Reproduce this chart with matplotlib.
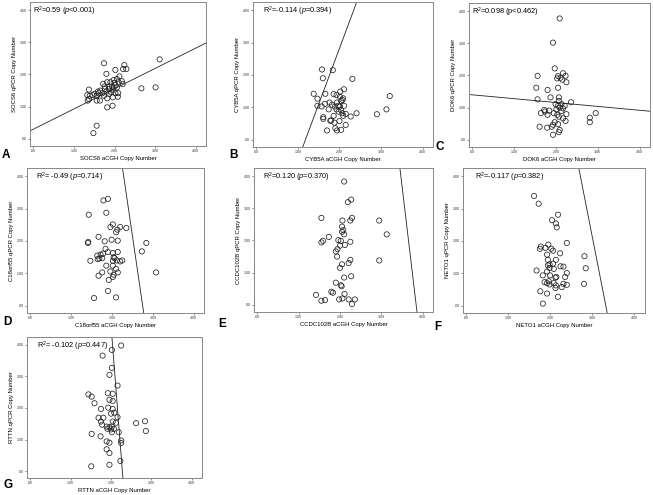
import matplotlib
matplotlib.use("Agg")
import matplotlib.pyplot as plt
import numpy as np

plt.rcParams['font.family'] = ['Liberation Sans', 'DejaVu Sans']
plt.rcParams['mathtext.fontset'] = 'custom'
plt.rcParams['mathtext.rm'] = 'Liberation Sans'
plt.rcParams['mathtext.it'] = 'Liberation Sans:italic'

# ---- data (aCGH copy number x, qPCR copy number y) ----
socs6_x = [1.74, 2.24, 2.21, 2.29, 3.11, 1.80, 2.02, 2.12, 2.06, 1.98, 1.82, 1.90, 2.00, 2.10,
           2.18, 1.72, 2.20, 2.02, 1.94, 1.86, 1.98, 2.06, 1.76, 1.87, 1.96, 1.65, 1.80, 1.92,
           2.02, 2.09, 1.61, 1.70, 1.51, 1.39, 1.59, 1.37, 1.33, 1.46, 1.56, 1.37, 1.34, 1.56,
           1.64, 1.82, 1.96, 2.08, 2.66, 3.01, 1.82, 1.95, 1.56, 1.48, 1.86, 1.74, 1.76]
socs6_y = [2.35, 2.29, 2.17, 2.17, 2.47, 2.02, 2.14, 1.94, 1.86, 1.83, 1.76, 1.76, 1.74, 1.76,
           1.79, 1.71, 1.70, 1.67, 1.63, 1.63, 1.60, 1.60, 1.55, 1.55, 1.53, 1.50, 1.47, 1.45,
           1.42, 1.42, 1.42, 1.42, 1.40, 1.34, 1.47, 1.53, 1.36, 1.36, 1.34, 1.24, 1.19, 1.19,
           1.19, 1.26, 1.29, 1.31, 1.57, 1.60, 0.98, 1.03, 0.41, 0.18, 1.40, 1.34, 1.63]

cyb5a_x = [1.58, 1.84, 1.60, 2.31, 2.11, 1.66, 1.38, 1.47, 1.86, 1.93, 2.01, 2.09, 2.04, 3.21,
           1.76, 1.65, 1.57, 1.47, 1.89, 1.97, 2.01, 2.11, 1.93, 2.04, 1.98, 2.07, 2.15, 2.09,
           3.13, 2.90, 2.41, 2.27, 1.61, 1.61, 1.78, 1.80, 1.88, 2.00, 2.15, 1.90, 1.94, 1.70,
           2.04, 1.86, 1.82, 1.74, 1.94, 2.02, 2.07]
cyb5a_y = [2.17, 2.15, 1.90, 1.88, 1.56, 1.42, 1.42, 1.27, 1.41, 1.38, 1.33, 1.28, 1.20, 1.35,
           1.15, 1.11, 1.03, 1.05, 1.03, 1.05, 1.03, 1.05, 0.94, 0.92, 0.87, 0.82, 0.80, 0.74,
           0.94, 0.79, 0.82, 0.72, 0.70, 0.65, 0.59, 0.60, 0.53, 0.58, 0.46, 0.36, 0.29, 0.29,
           0.31, 0.74, 1.08, 0.94, 1.15, 1.49, 1.23]

dok6_x = [2.09, 1.93, 1.97, 2.17, 2.05, 2.11, 2.03, 2.23, 2.15, 2.25, 1.56, 1.53, 1.80, 2.05,
          1.87, 2.07, 1.56, 2.07, 2.36, 2.13, 2.05, 2.21, 2.09, 2.01, 1.72, 1.84, 1.64, 1.80,
          1.95, 2.03, 2.13, 2.25, 2.17, 2.07, 1.97, 2.05, 1.93, 2.23, 2.81, 2.81, 2.95, 1.61,
          1.79, 1.90, 2.07, 1.93, 2.09, 1.99, 2.17, 1.74]
dok6_y = [3.77, 3.02, 2.22, 2.07, 1.98, 1.93, 1.91, 1.99, 1.87, 1.79, 1.99, 1.62, 1.55, 1.62,
          1.32, 1.32, 1.26, 1.21, 1.17, 1.11, 1.06, 1.06, 1.00, 0.95, 0.93, 0.91, 0.83, 0.78,
          0.83, 0.78, 0.90, 0.80, 0.67, 0.72, 0.55, 0.49, 0.47, 0.59, 0.69, 0.55, 0.83, 0.41,
          0.38, 0.41, 0.24, 0.16, 0.31, 1.11, 0.98, 0.88]

c18_x = [1.79, 1.90, 1.43, 1.86, 2.02, 1.96, 2.13, 2.20, 2.35, 2.10, 1.67, 1.41, 1.42, 1.82,
         1.99, 2.14, 1.84, 2.84, 2.73, 1.64, 1.72, 1.78, 1.90, 2.02, 2.14, 1.65, 1.76, 1.47,
         2.06, 2.12, 2.02, 2.20, 2.25, 1.86, 2.02, 2.10, 1.96, 2.14, 1.76, 1.67, 2.04, 2.02,
         1.92, 3.08, 1.90, 1.56, 2.10, 2.04, 1.69]
c18_y = [3.25, 3.30, 2.81, 2.87, 2.51, 2.43, 2.35, 2.43, 2.40, 2.27, 2.13, 1.94, 1.97, 1.99,
         2.04, 2.01, 1.76, 1.94, 1.68, 1.55, 1.58, 1.61, 1.66, 1.63, 1.66, 1.44, 1.47, 1.39,
         1.47, 1.40, 1.39, 1.37, 1.40, 1.24, 1.24, 1.14, 1.06, 1.03, 1.03, 0.93, 0.96, 0.89,
         0.80, 1.03, 0.46, 0.24, 0.26, 1.50, 1.46]

ccdc_x = [2.10, 2.27, 2.19, 1.55, 2.29, 2.25, 2.95, 2.06, 2.05, 2.08, 2.05, 2.10, 3.13, 1.73,
          1.59, 1.55, 1.96, 2.02, 2.25, 2.00, 2.12, 1.94, 1.90, 1.93, 2.25, 2.21, 2.95, 2.05,
          2.00, 2.10, 2.27, 1.90, 2.02, 2.04, 1.79, 1.83, 1.42, 1.55, 1.64, 1.98, 2.06, 2.11,
          2.21, 2.36, 2.29]
ccdc_y = [3.83, 3.27, 3.19, 2.70, 2.70, 2.62, 2.62, 2.62, 2.43, 2.32, 2.27, 2.19, 2.19, 2.11,
          1.99, 1.94, 2.01, 1.99, 1.96, 1.84, 1.86, 1.73, 1.66, 1.50, 1.40, 1.30, 1.38, 1.26,
          1.15, 0.85, 0.89, 0.69, 0.61, 0.58, 0.41, 0.38, 0.31, 0.13, 0.15, 0.17, 0.20, 0.34,
          0.17, 0.17, 0.03]

neto1_x = [1.61, 1.72, 2.18, 2.04, 2.13, 2.15, 2.39, 1.95, 1.77, 1.75, 1.88, 2.02, 2.06, 2.23,
           1.92, 2.81, 2.13, 1.94, 2.06, 1.98, 1.94, 2.24, 2.31, 1.98, 2.08, 2.84, 1.92, 1.67,
           2.39, 1.82, 2.35, 2.14, 2.12, 1.86, 1.92, 1.98, 2.08, 1.96, 2.13, 2.31, 2.39, 2.27,
           2.12, 2.80, 1.76, 1.92, 2.18, 1.82, 1.99]
neto1_y = [3.39, 3.15, 2.81, 2.64, 2.54, 2.42, 1.94, 1.89, 1.83, 1.76, 1.79, 1.76, 1.70, 1.62,
           1.58, 1.53, 1.42, 1.42, 1.30, 1.28, 1.25, 1.22, 1.21, 1.17, 1.14, 1.16, 1.06, 1.09,
           1.01, 0.94, 0.89, 0.89, 0.87, 0.73, 0.70, 0.66, 0.70, 0.76, 0.63, 0.68, 0.65, 0.58,
           0.55, 0.68, 0.45, 0.38, 0.28, 0.07, 0.94]

rttn_x = [2.25, 2.02, 1.79, 2.02, 1.96, 2.16, 1.44, 1.52, 1.92, 2.04, 1.96, 2.04, 1.59, 1.93,
          2.04, 1.75, 2.00, 2.08, 1.69, 1.81, 2.16, 1.75, 1.78, 2.04, 2.12, 2.62, 2.84, 1.89,
          1.96, 2.02, 1.91, 2.00, 2.07, 2.02, 2.19, 2.86, 1.52, 1.74, 2.25, 2.25, 1.89, 1.96,
          1.89, 1.96, 1.96, 1.51, 2.23]
rttn_y = [3.98, 3.84, 3.66, 3.27, 3.05, 2.71, 2.43, 2.36, 2.47, 2.45, 2.26, 2.22, 2.15, 2.01,
          1.97, 1.97, 1.82, 1.85, 1.69, 1.69, 1.71, 1.57, 1.47, 1.57, 1.53, 1.52, 1.58, 1.41,
          1.39, 1.41, 1.34, 1.32, 1.34, 1.23, 1.23, 1.27, 1.18, 1.10, 0.97, 0.89, 0.94, 0.90,
          0.69, 0.57, 0.20, 0.15, 0.32]

genes = ['SOCS6', 'CYB5A', 'DOK6', 'C18orf55', 'CCDC102B', 'NETO1', 'RTTN']
letters = ['A', 'B', 'C', 'D', 'E', 'F', 'G']
xs = [socs6_x, cyb5a_x, dok6_x, c18_x, ccdc_x, neto1_x, rttn_x]
ys = [socs6_y, cyb5a_y, dok6_y, c18_y, ccdc_y, neto1_y, rttn_y]
# fitted lines as drawn in the figure: intercept, slope
line_icpt = [0.30, -4.06, 1.40, 23.65, 41.5, 21.9, 37.6]
line_slope = [0.63, 3.44, -0.12, -8.6, -10.8, -6.6, -16.5]
stats = [r'R$^2$=0.59 ($\it{p}$<0.001)',
         r'R$^2$=-0.114 ($\it{p}$=0.394)',
         r'R$^2$=0.098 (p<0.462)',
         r'R$^2$= -0.49 ($\it{p}$=0.714)',
         r'R$^2$=0.120 ($\it{p}$=0.370)',
         r'R$^2$=-0.117 ($\it{p}$=0.382)',
         r'R$^2$= -0.102 ($\it{p}$=0.447)']
ticks = [0, 1, 2, 3, 4]
tick_labels = ['.00', '1.00', '2.00', '3.00', '4.00']

W, H = 653, 495
# axes boxes in pixels: left, right, top, bottom
boxes = [(30, 206, 2, 146), (253, 433, 2, 147), (469, 650, 3, 147),
         (27, 204, 168, 313), (254, 433, 168, 312), (463, 645, 168, 313),
         (27, 202, 337, 478)]
letter_pos = [(2, 158), (229, 158), (436, 150), (3, 325), (218, 327), (434, 330), (3, 488)]
txt_x = [0.015, 0.055, 0.015, 0.05, 0.05, 0.066, 0.055]

fig = plt.figure(figsize=(W / 100, H / 100), dpi=100)
for i in range(7):
    l, r, t, b = boxes[i]
    ax = fig.add_axes([l / W, 1 - b / H, (r - l) / W, (b - t) / H])
    ax.scatter(xs[i], ys[i], s=14, facecolors='none', edgecolors='#222222', linewidths=0.55, zorder=3)
    xx = np.array([-0.5, 4.5])
    ax.plot(xx, line_icpt[i] + line_slope[i] * xx, color='#222222', lw=0.6)
    ax.set_xlim(-0.08, 4.25)
    ax.set_ylim(-0.22, 4.25)
    ax.set_xticks(ticks)
    ax.set_xticklabels(tick_labels)
    ax.set_yticks(ticks)
    ax.set_yticklabels(tick_labels)
    ax.tick_params(labelsize=2.6, length=1.5, width=0.4, pad=1, colors='#333333')
    for sp in ax.spines.values():
        sp.set_color('#888888')
        sp.set_linewidth(0.7)
    ax.set_xlabel(genes[i] + ' aCGH Copy Number', fontsize=4.3, labelpad=2)
    ax.set_ylabel(genes[i] + ' qPCR Copy Number', fontsize=4.3, labelpad=2)
    ax.text(txt_x[i], 0.935, stats[i], transform=ax.transAxes, fontsize=5.3, va='center', ha='left')
    lx, ly = letter_pos[i]
    fig.text(lx / W, 1 - ly / H, letters[i], fontsize=8.5, fontweight='bold', ha='left', va='baseline')

fig.savefig('out.png', dpi=100)
